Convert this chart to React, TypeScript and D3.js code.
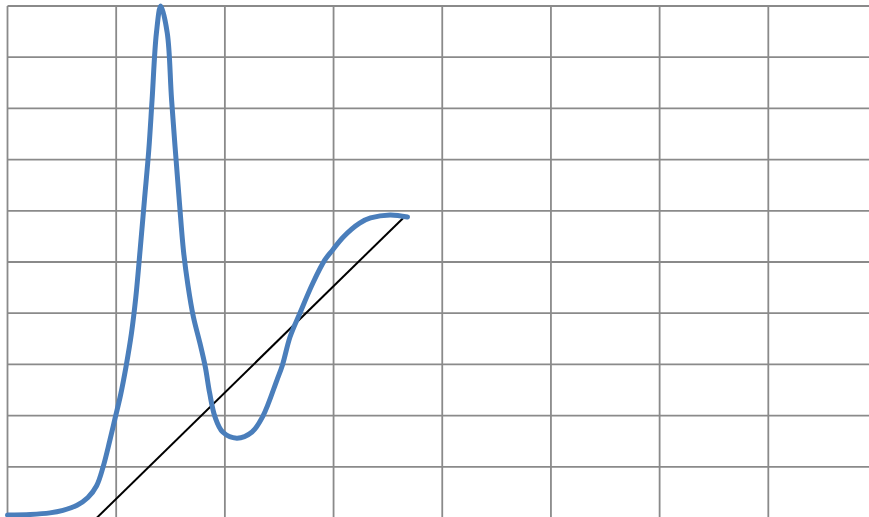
import * as d3 from 'd3';

// measured curve (x in grid units, y in grid units)
const curveX = [0.0, 0.21, 0.39, 0.51, 0.64, 0.74, 0.82, 0.88, 0.94, 0.99, 1.04, 1.09, 1.14, 1.18, 1.22, 1.26, 1.3, 1.33, 1.37, 1.41, 1.47, 1.51, 1.58, 1.62, 1.66, 1.71, 1.77, 1.82, 1.86, 1.91, 1.98, 2.11, 2.25, 2.35, 2.48, 2.53, 2.6, 2.69, 2.81, 2.92, 2.99, 3.09, 3.24, 3.34, 3.52, 3.68];
const curveY = [0.06, 0.07, 0.1, 0.15, 0.25, 0.4, 0.63, 1.0, 1.5, 1.95, 2.4, 2.95, 3.6, 4.3, 5.23, 6.21, 7.19, 8.16, 9.47, 10.0, 9.47, 8.16, 6.21, 5.2, 4.55, 3.93, 3.42, 2.95, 2.44, 1.97, 1.68, 1.56, 1.68, 1.99, 2.7, 2.99, 3.54, 4.0, 4.59, 5.04, 5.23, 5.49, 5.76, 5.86, 5.92, 5.88];

// straight tangent line
const tangentX = [0.82, 3.66];
const tangentY = [0, 5.9];

const xTicks = [0, 1, 2, 3, 4, 5, 6, 7, 8];
const yTicks = [0, 1, 2, 3, 4, 5, 6, 7, 8, 9, 10];

const W = 869;
const H = 517;

const App = () => {
  const x = d3.scaleLinear().domain([0, 8]).range([7.5, 877]);
  const y = d3.scaleLinear().domain([0, 10]).range([518, 6]);

  const pts: [number, number][] = curveX.map((v, i) => [v, curveY[i]]);
  const line = d3.line<[number, number]>()
    .x(d => x(d[0]))
    .y(d => y(d[1]))
    .curve(d3.curveCatmullRom.alpha(0.5));

  const tpts: [number, number][] = tangentX.map((v, i) => [v, tangentY[i]]);
  const straight = d3.line<[number, number]>().x(d => x(d[0])).y(d => y(d[1]));

  return (
    <svg width={W} height={H} style={{ position: 'absolute', left: 0, top: 0, background: '#fff' }}>
      <g>
        {xTicks.map(t => (
          <line key={'v' + t} x1={x(t)} x2={x(t)} y1={y(10)} y2={y(0)} stroke="#8a8a8a" strokeWidth={1.8} />
        ))}
        {yTicks.map(t => (
          <line key={'h' + t} x1={x(0)} x2={x(8)} y1={y(t)} y2={y(t)} stroke="#8a8a8a" strokeWidth={1.8} />
        ))}
      </g>
      <path d={straight(tpts) ?? ''} fill="none" stroke="#000" strokeWidth={2} />
      <path d={line(pts) ?? ''} fill="none" stroke="#4a7ebb" strokeWidth={5} strokeLinejoin="round" strokeLinecap="round" />
    </svg>
  );
};

export default App;
